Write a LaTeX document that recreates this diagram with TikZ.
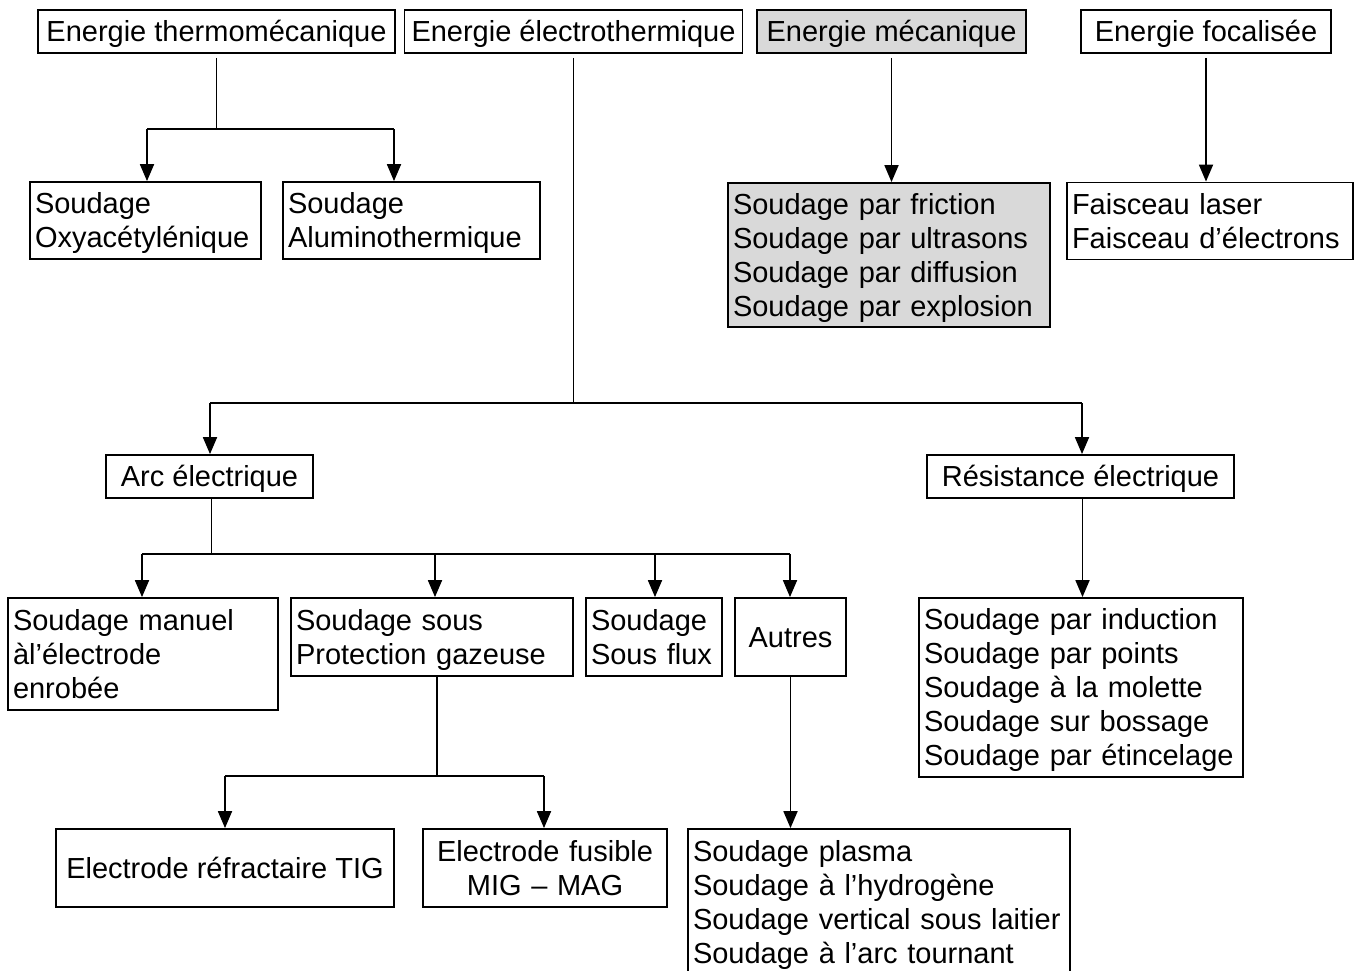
\documentclass[tikz,border=0pt]{standalone}
\usepackage{fontspec}
\setmainfont{Liberation Sans}
\usetikzlibrary{arrows.meta}
\definecolor{boxgray}{RGB}{217,217,217}
\newcommand\bxfont{\fontsize{29pt}{34pt}\selectfont}
\newcommand\mystrut{\rule[-7pt]{0pt}{34pt}}
\tikzset{
  bx/.style={draw=black, line width=1.8pt, inner xsep=6pt, inner ysep=0pt, font=\bxfont},
  lbx/.style={bx, align=left},
  cbx/.style={bx, align=center},
  ln/.style={draw=black, line width=1.8pt},
  arr/.style={ln, -{Triangle[length=17pt,width=14pt]}}
}
\begin{document}
\begin{tikzpicture}[x=1pt,y=-1pt]
\clip (0,0) rectangle (1359,970);
\fill[white] (0,0) rectangle (1359,970);
% top row
\node[cbx, minimum width=357pt, minimum height=43pt] (thermo) at (216.5,31.5) {\mystrut Energie thermomécanique};
\node[cbx, minimum width=338pt, minimum height=43pt, inner xsep=0pt] (electro) at (573.5,31.5) {\mystrut Energie électrothermique};
\node[cbx, minimum width=269pt, minimum height=43pt, fill=boxgray] (meca) at (891.5,31.5) {\mystrut Energie mécanique};
\node[cbx, minimum width=250pt, minimum height=43pt] (foca) at (1206,31.5) {\mystrut Energie focalisée};
% second row
\node[lbx, minimum width=231pt, minimum height=77pt, text width=221pt, inner xsep=5pt] (oxy) at (145.5,220.5) {\mystrut Soudage\\Oxyacétylénique\mystrut};
\node[lbx, minimum width=257pt, minimum height=77pt, text width=247pt, inner xsep=5pt] (alum) at (411.5,220.5) {\mystrut Soudage\\Aluminothermique\mystrut};
\node[lbx, minimum width=322pt, minimum height=144pt, text width=312pt, inner xsep=5pt, fill=boxgray] (friction) at (889,255) {\mystrut Soudage par friction\\Soudage par ultrasons\\Soudage par diffusion\\Soudage par explosion\mystrut};
\node[lbx, minimum width=286pt, minimum height=77pt, text width=276pt, inner xsep=5pt] (faisceau) at (1210,221) {\mystrut Faisceau laser\\Faisceau d’électrons\mystrut};
% third row
\node[cbx, minimum width=207pt, minimum height=43pt] (arc) at (209.5,476.5) {\mystrut Arc électrique};
\node[cbx, minimum width=307pt, minimum height=43pt] (resist) at (1080.5,476.5) {\mystrut Résistance électrique};
% fourth row
\node[lbx, minimum width=270pt, minimum height=112pt, text width=260pt, inner xsep=5pt] (manuel) at (143,654) {\mystrut Soudage manuel\\àl’électrode\\enrobée\mystrut};
\node[lbx, minimum width=282pt, minimum height=78pt, text width=272pt, inner xsep=5pt] (protection) at (432,637) {\mystrut Soudage sous\\Protection gazeuse\mystrut};
\node[lbx, minimum width=136pt, minimum height=78pt, text width=126pt, inner xsep=5pt] (flux) at (654,637) {\mystrut Soudage\\Sous flux\mystrut};
\node[cbx, minimum width=111pt, minimum height=78pt] (autres) at (790.5,637) {\mystrut Autres};
\node[lbx, minimum width=324pt, minimum height=179pt, text width=314pt, inner xsep=5pt] (rlist) at (1081,687.5) {\mystrut Soudage par induction\\Soudage par points\\Soudage à la molette\\Soudage sur bossage\\Soudage par étincelage\mystrut};
% fifth row
\node[cbx, minimum width=338pt, minimum height=78pt] (tig) at (225,868) {\mystrut Electrode réfractaire TIG};
\node[cbx, minimum width=244pt, minimum height=78pt, text width=234pt, inner xsep=5pt] (mig) at (545,868) {\mystrut Electrode fusible\\MIG – MAG\mystrut};
\node[lbx, minimum width=382pt, minimum height=146pt, text width=372pt, inner xsep=5pt] (others) at (879,902) {\mystrut Soudage plasma\\Soudage à l’hydrogène\\Soudage vertical sous laitier\\Soudage à l’arc tournant\mystrut};
% connectors: thermomecanique
\coordinate (t1) at (147,129);
\coordinate (t2) at (394,129);
\draw[ln] ([yshift=-4pt]thermo.south) -- (thermo.south |- t1);
\draw[ln] (t1) -- (t2);
\draw[arr] (t1) -- (t1 |- oxy.north);
\draw[arr] (t2) -- (t2 |- alum.north);
% electrothermique
\coordinate (e1) at (210,403);
\coordinate (e2) at (1082,403);
\draw[ln] ([yshift=-4pt]electro.south) -- (electro.south |- e1);
\draw[ln] (e1) -- (e2);
\draw[arr] (e1) -- (e1 |- arc.north);
\draw[arr] (e2) -- (e2 |- resist.north);
% mecanique, focalisee
\draw[arr] ([yshift=-4pt]meca.south) -- (meca.south |- friction.north);
\draw[arr] ([yshift=-4pt]foca.south) -- (foca.south |- faisceau.north);
% arc electrique
\coordinate (a1) at (142,554);
\coordinate (a2) at (435,554);
\coordinate (a3) at (655,554);
\coordinate (a4) at (790,554);
\draw[ln] ([xshift=2pt]arc.south) -- ([xshift=2pt]arc.south |- a1);
\draw[ln] (a1) -- (a4);
\draw[arr] (a1) -- (a1 |- manuel.north);
\draw[arr] (a2) -- (a2 |- protection.north);
\draw[arr] (a3) -- (a3 |- flux.north);
\draw[arr] (a4) -- (a4 |- autres.north);
% resistance
\draw[arr] ([xshift=2pt]resist.south) -- ([xshift=2pt]resist.south |- rlist.north);
% protection gazeuse
\coordinate (p1) at (225,776);
\coordinate (p2) at (544,776);
\draw[ln] ([xshift=5pt]protection.south) -- ([xshift=5pt]protection.south |- p1);
\draw[ln] (p1) -- (p2);
\draw[arr] (p1) -- (p1 |- tig.north);
\draw[arr] (p2) -- (p2 |- mig.north);
% autres
\draw[arr] (autres.south) -- (autres.south |- others.north);
\end{tikzpicture}
\end{document}
